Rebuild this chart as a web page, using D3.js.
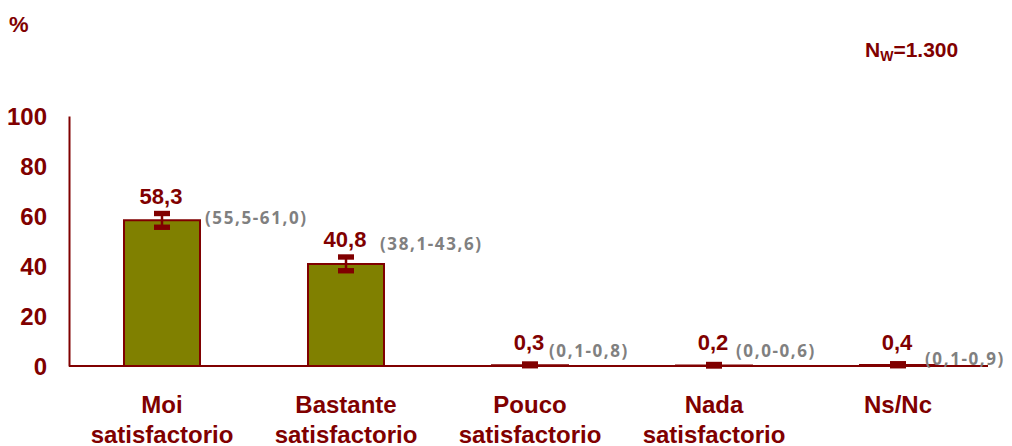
<!DOCTYPE html>
<html><head><meta charset="utf-8">
<script src="https://cdn.jsdelivr.net/npm/d3@7"></script>
<style>body{margin:0;background:#fff}</style>
</head><body>
<svg id="c" width="1012" height="446"></svg>
<script>
const categories = [["Moi","satisfactorio"],["Bastante","satisfactorio"],["Pouco","satisfactorio"],["Nada","satisfactorio"],["Ns/Nc"]];
const values = [58.3, 40.8, 0.3, 0.2, 0.4];
const ciLow = [55.5, 38.1, 0.1, 0.0, 0.1];
const ciHigh = [61.0, 43.6, 0.8, 0.6, 0.9];
const valueLabels = ["58,3","40,8","0,3","0,2","0,4"];
const ciLabels = ["(55,5-61,0)","(38,1-43,6)","(0,1-0,8)","(0,0-0,6)","(0,1-0,9)"];
const yTicks = [0,20,40,60,80,100];
const nLabel = "1.300";

// layout nudges for CI labels (relative to bar centre / value label baseline)
const ciNudge = [[43,20],[34,3],[19,7],[22,7],[27,15]];

const RED = "#800000", OLIVE = "#808000", GREY = "#808080";
const svg = d3.select("#c");
const x = d3.scaleBand().domain(d3.range(values.length)).range([70, 990]).paddingInner(0.587).paddingOuter(0.2935);
const y = d3.scaleLinear().domain([0,100]).range([366,116]);
const font = "'Liberation Sans', Arial, sans-serif";

// y axis
const ya = svg.append("g").attr("transform","translate(69,0)").call(d3.axisLeft(y).tickValues(yTicks).tickSize(0).tickPadding(22));
ya.select(".domain").attr("stroke",RED).attr("stroke-width",2);
ya.selectAll("text").attr("fill",RED).attr("font-family",font).attr("font-weight","bold").attr("font-size",24).attr("dy","0.36em");

// bars
svg.selectAll("rect.bar").data(values).enter().append("rect").attr("class","bar")
  .attr("x",(d,i)=>x(i)).attr("width",x.bandwidth())
  .attr("y",d=>y(d)).attr("height",d=>y(0)-y(d))
  .attr("fill",OLIVE).attr("stroke",RED).attr("stroke-width",2);

// x axis line
svg.append("line").attr("x1",69).attr("x2",988).attr("y1",y(0)).attr("y2",y(0)).attr("stroke",RED).attr("stroke-width",2);

// error bars
const cx = i => x(i) + x.bandwidth()/2;
values.forEach((v,i)=>{
  svg.append("line").attr("x1",cx(i)).attr("x2",cx(i)).attr("y1",y(ciLow[i])).attr("y2",y(ciHigh[i])).attr("stroke",RED).attr("stroke-width",2.5);
  [ciLow[i],ciHigh[i]].forEach(e=>{
    svg.append("rect").attr("x",cx(i)-8).attr("width",16).attr("y",y(e)-2.7).attr("height",5.4).attr("fill",RED);
  });
  const lb = Math.min(y(ciHigh[i]) - 10, y(0) - 16);
  svg.append("text").attr("x",cx(i)-1).attr("y",lb).attr("text-anchor","middle")
    .attr("fill",RED).attr("font-family",font).attr("font-weight","bold").attr("font-size",22).text(valueLabels[i]);
  svg.append("text").attr("x",cx(i)+ciNudge[i][0]).attr("y",lb+ciNudge[i][1])
    .attr("fill",GREY).attr("font-family","'Open Sans', sans-serif").attr("font-weight","bold").attr("font-size",17)
    .attr("letter-spacing","1.6px").text(ciLabels[i]);
});

// category labels
categories.forEach((c,i)=>{
  const t = svg.append("text").attr("text-anchor","middle").attr("fill",RED).attr("font-family",font).attr("font-weight","bold").attr("font-size",24);
  c.forEach((line,k)=>t.append("tspan").attr("x",cx(i)).attr("y",413+k*30).text(line));
});

// % label
svg.append("text").attr("x",9).attr("y",32).attr("fill",RED).attr("font-family",font).attr("font-weight","bold").attr("font-size",22).text("%");

// N label
const nt = svg.append("text").attr("x",865).attr("y",57).attr("fill",RED).attr("font-family",font).attr("font-weight","bold").attr("font-size",21);
nt.append("tspan").text("N");
nt.append("tspan").attr("font-size",14).attr("dy",4).text("W");
nt.append("tspan").attr("dy",-4).text("=" + nLabel);
</script>
</body></html>
